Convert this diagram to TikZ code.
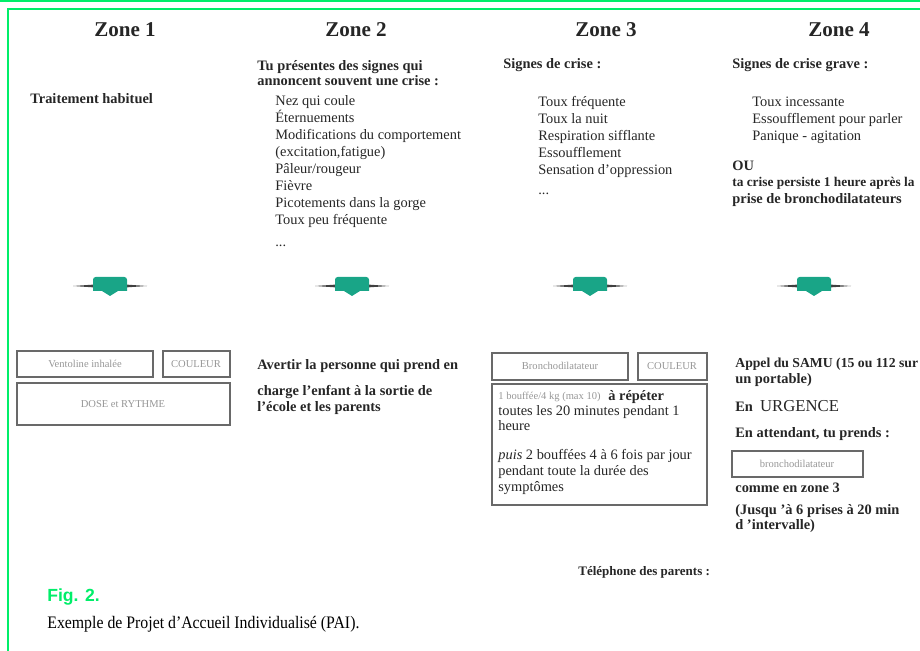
\documentclass[tikz,border=0pt]{standalone}
\usepackage{fontspec}
\usepackage{tikz}
\usetikzlibrary{positioning}
\setmainfont{Liberation Serif}
\newfontfamily\figfont{Liberation Sans}
\newfontfamily\capfont[FakeStretch=0.9]{Liberation Serif}
\definecolor{framegreen}{RGB}{0,238,105}
\definecolor{arrowteal}{RGB}{25,165,135}
\definecolor{boxgray}{RGB}{105,105,105}
\definecolor{faintgray}{RGB}{150,150,150}
\tikzset{
  zonetitle/.style={font=\fontsize{12}{14}\selectfont\bfseries, inner sep=0, text=black!85},
  headtxt/.style={font=\fontsize{8.2}{9.6}\selectfont\bfseries, anchor=west, inner sep=0, text=black!85, text height=5.8pt, text depth=1.8pt},
  itemtxt/.style={font=\fontsize{8.2}{9.6}\selectfont, anchor=west, inner sep=0, text=black!85, text height=5.8pt, text depth=1.8pt},
  fainttxt/.style={font=\fontsize{6}{7}\selectfont, text=faintgray, inner sep=0},
  boxline/.style={draw=boxgray, line width=1pt}
}

\begin{document}
\begin{tikzpicture}[x=0.02cm,y=-0.02cm]
\useasboundingbox (0,0) rectangle (920,651);
\clip (0,0) rectangle (920,651);
\draw[framegreen, line width=1.2pt] (0,1) -- (920,1);
\draw[framegreen, line width=1.2pt] (8,651) -- (8,9) -- (920,9);

\foreach \x/\n in {125/1,356/2,606/3,839/4}
    \node[zonetitle] (zone\n) at (\x,30) {Zone \n};

\foreach \x in {110,352,590,814}
{
    \fill[black!75] (\x-37,286) -- (\x,283.5) -- (\x+37,286) -- (\x,288.5) -- cycle;
    \fill[arrowteal, rounded corners=1.5pt] (\x-17,291) -- (\x-17,277) -- (\x+17,277) -- (\x+17,291);
    \fill[arrowteal] (\x-17,290) rectangle (\x+17,291.5);
    \fill[arrowteal] (\x-8,291) -- (\x+8,291) -- (\x,296) -- cycle;
}

\node[headtxt] (habituel) at (30,100) {Traitement habituel};

\node[headtxt] (signesA) at (257,67) {Tu présentes des signes qui};
\node[headtxt] (signesB) at (257,82) {annoncent souvent une crise :};
\foreach \t [count=\i from 0] in {Nez qui coule,Éternuements,Modifications du comportement,{(excitation,fatigue)},Pâleur/rougeur,Fièvre,Picotements dans la gorge,Toux peu fréquente}
    \node[itemtxt] (signe\i) at (275,102+17*\i) {\t};
\node[itemtxt] (signedots) at (275,243) {...};

\node[headtxt] (criseA) at (503,65) {Signes de crise :};
\foreach \t [count=\i from 0] in {Toux fréquente,Toux la nuit,Respiration sifflante,Essoufflement,Sensation d'oppression}
    \node[itemtxt] (crise\i) at (538,103+17*\i) {\t};
\node[itemtxt] (crisedots) at (538,191) {...};

\node[headtxt] (graveA) at (732,65) {Signes de crise grave :};
\foreach \t [count=\i from 0] in {Toux incessante,Essoufflement pour parler,Panique - agitation}
    \node[itemtxt] (grave\i) at (752,103+17*\i) {\t};
\node[headtxt] (ou) at (732,167) {OU};
\node[headtxt, font=\fontsize{7.6}{9}\selectfont\bfseries] (graveB) at (732,183) {ta crise persiste 1 heure après la};
\node[headtxt] (graveC) at (732,200) {prise de bronchodilatateurs};

\draw[boxline] (17,351) rectangle (153,377);
\draw[boxline] (163,351) rectangle (230,377);
\draw[boxline] (17,383) rectangle (230,425);
\node[fainttxt] (ventoline) at (85,364) {Ventoline inhalée};
\node[fainttxt] (couleurA) at (196,364) {COULEUR};
\node[fainttxt] (rythme) at (123,404) {DOSE et RYTHME};

\node[headtxt] (avertirA) at (257,366) {Avertir la personne qui prend en};
\node[headtxt] (avertirB) at (257,392) {charge l'enfant à la sortie de};
\node[headtxt] (avertirC) at (257,408) {l'école et les parents};

\draw[boxline] (492,353) rectangle (628,380);
\draw[boxline] (638,353) rectangle (707,380);
\draw[boxline] (492,384) rectangle (707,505);
\node[fainttxt] (broncho) at (560,366) {Bronchodilatateur};
\node[fainttxt] (couleurB) at (672,366) {COULEUR};
\node[fainttxt, anchor=west] (bouffee) at (498,397) {1 bouffée/4 kg (max 10)};
\node[headtxt, right=4pt of bouffee] (repeter) {à répéter};
\node[itemtxt] (doseB) at (498,412) {toutes les 20 minutes pendant 1};
\node[itemtxt] (doseC) at (498,427) {heure};
\node[itemtxt] (doseD) at (498,456) {\textit{puis} 2 bouffées 4 à 6 fois par jour};
\node[itemtxt] (doseE) at (498,472) {pendant toute la durée des};
\node[itemtxt] (doseF) at (498,488) {symptômes};

\node[headtxt, font=\fontsize{7.8}{9}\selectfont\bfseries] (samuA) at (735,364) {Appel du SAMU (15 ou 112 sur};
\node[headtxt] (samuB) at (735,380) {un portable)};
\node[headtxt] (urgence) at (735,408) {En~~\textmd{\fontsize{9.5}{11}\selectfont URGENCE}};
\node[headtxt] (attente) at (735,434) {En attendant, tu prends :};
\draw[boxline] (732,451) rectangle (863,477);
\node[fainttxt] (bronchoB) at (797,464) {bronchodilatateur};
\node[headtxt] (comme) at (735,489) {comme en zone 3};
\node[headtxt] (prisesA) at (735,511) {(Jusqu 'à 6 prises à 20 min};
\node[headtxt] (prisesB) at (735,526) {d 'intervalle)};

\node[headtxt, font=\fontsize{7.4}{9}\selectfont\bfseries] (telephone) at (578,572) {Téléphone des parents :};

\node[anchor=west, inner sep=0, font=\figfont\bfseries\fontsize{10}{12}\selectfont, text=framegreen] (fig) at (47,597) {Fig. 2.};
\node[anchor=west, inner sep=0, font=\capfont\fontsize{10}{12}\selectfont] (legende) at (47,624) {Exemple de Projet d’Accueil Individualisé (PAI).};
\end{tikzpicture}
\end{document}
